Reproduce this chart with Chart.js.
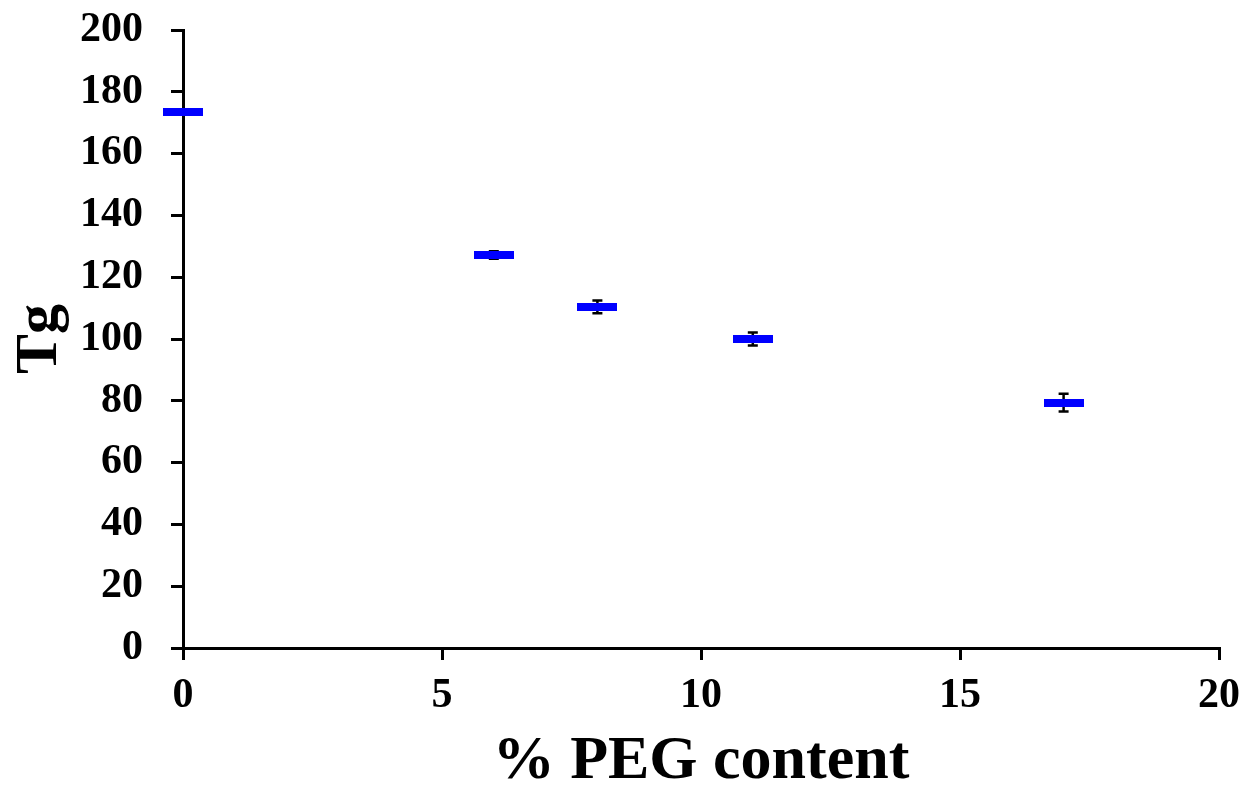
<!DOCTYPE html>
<html>
<head>
<meta charset="utf-8">
<script src="https://cdn.jsdelivr.net/npm/chart.js@4/dist/chart.umd.min.js"></script>
<style>
  html, body { margin: 0; padding: 0; background: #fff; }
  #wrap { width: 1251px; height: 793px; }
</style>
</head>
<body>
<div id="wrap"><canvas id="cv" width="1251" height="793"></canvas></div>
<script>
/* Tg vs % PEG content — dash markers with error bars */

const pegContent = [0, 6, 8, 11, 17];
const tgValues = [173.5, 127.2, 110.4, 100, 79.4];
const tgErrors = [0.5, 1.2, 2.1, 2.1, 2.9];
const xTicks = [0, 5, 10, 15, 20];
const yTicks = [0, 20, 40, 60, 80, 100, 120, 140, 160, 180, 200];

const FONT = "'Liberation Serif', 'Times New Roman', serif";

// flat blue dash used as the point marker
function dashMarker(w, h, col) {
  const c = document.createElement('canvas');
  c.width = w; c.height = h;
  const g = c.getContext('2d');
  g.fillStyle = col;
  g.fillRect(0, 0, w, h);
  return c;
}
const marker = dashMarker(40, 8, '#0000ff');

// error bars, drawn under the markers
const errBars = {
  id: 'errBars',
  beforeDatasetsDraw(chart) {
    const ctx = chart.ctx;
    const xs = chart.scales.x, ys = chart.scales.y;
    ctx.save();
    ctx.strokeStyle = '#000';
    ctx.lineWidth = 2.5;
    pegContent.forEach((x, i) => {
      const px = xs.getPixelForValue(x);
      const top = ys.getPixelForValue(tgValues[i] + tgErrors[i]);
      const bot = ys.getPixelForValue(tgValues[i] - tgErrors[i]);
      ctx.beginPath();
      ctx.moveTo(px, top); ctx.lineTo(px, bot);
      ctx.moveTo(px - 5, top); ctx.lineTo(px + 5, top);
      ctx.moveTo(px - 5, bot); ctx.lineTo(px + 5, bot);
      ctx.stroke();
    });
    ctx.restore();
  }
};

new Chart(document.getElementById('cv'), {
  type: 'scatter',
  data: {
    datasets: [{
      data: pegContent.map((x, i) => ({ x, y: tgValues[i] })),
      pointStyle: marker,
      pointRadius: 20,
      pointHoverRadius: 20,
      clip: false
    }]
  },
  plugins: [errBars],
  options: {
    responsive: false,
    animation: false,
    events: [],
    layout: { padding: { top: 30, right: 32, left: 0, bottom: 0 } },
    plugins: { legend: { display: false }, tooltip: { enabled: false } },
    scales: {
      x: {
        type: 'linear', min: 0, max: 20,
        afterFit: s => { s.height = 145; },
        afterBuildTicks: s => { s.ticks = xTicks.map(v => ({ value: v })); },
        border: { display: true, color: '#000', width: 3 },
        grid: { drawOnChartArea: false, drawTicks: true, tickLength: 12, color: '#000', lineWidth: 3 },
        ticks: { color: '#000', padding: 11, maxRotation: 0, font: { family: FONT, size: 42, weight: 'bold' } },
        title: {
          display: true, text: '% PEG content', color: '#000',
          font: { family: FONT, size: 62, weight: 'bold', lineHeight: 1 },
          padding: { top: 0, bottom: 0 }
        }
      },
      y: {
        type: 'linear', min: 0, max: 200,
        afterFit: s => { s.width = 183; s.paddingTop = 0; s.paddingBottom = 0; },
        afterBuildTicks: s => { s.ticks = yTicks.map(v => ({ value: v })); },
        border: { display: true, color: '#000', width: 3 },
        grid: { drawOnChartArea: false, drawTicks: true, tickLength: 12, color: '#000', lineWidth: 3 },
        ticks: { color: '#000', padding: 28, font: { family: FONT, size: 42, weight: 'bold' } },
        title: {
          display: true, text: 'Tg', color: '#000',
          font: { family: FONT, size: 60, weight: 'bold', lineHeight: 1 },
          padding: { top: 10, bottom: 0 }
        }
      }
    }
  }
});
</script>
</body>
</html>
